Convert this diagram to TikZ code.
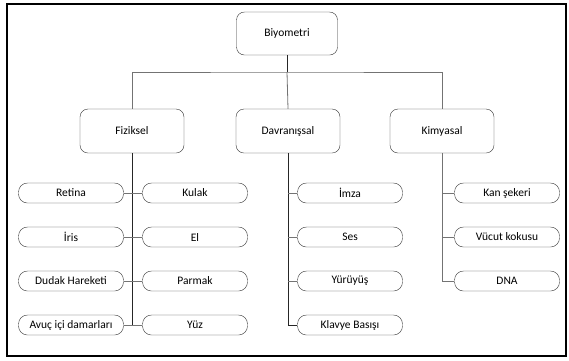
\documentclass[tikz,border=0pt]{standalone}
\usepackage{fontspec}
\setmainfont{Carlito}
\usetikzlibrary{positioning,calc}

\begin{document}
\begin{tikzpicture}[x=1pt, y=-1pt,
  catbox/.style={draw=black!80, rounded corners=8pt, fill=white, minimum width=104pt,
                 minimum height=44pt, inner sep=2pt, align=center, font=\fontsize{11.5}{13}\selectfont},
  leafbox/.style={draw=black!80, rounded corners=9pt, fill=white, minimum width=105pt,
                  minimum height=20pt, inner sep=1pt, align=center, font=\fontsize{11.5}{13}\selectfont},
  trunk/.style={draw=black!85, line width=1pt},
  link/.style={draw=black!55, line width=0.8pt},
]
\useasboundingbox (0,0) rectangle (569,360);
% outer frame
\draw[line width=1.6pt] (7,4) rectangle (566,356);

% Root
\node[catbox, minimum width=101pt, minimum height=43pt] (bio) at (287,33.5) {Biyometri};

% Categories
\node[catbox] (fiz) at (132,131) {Fiziksel};
\node[catbox] (dav) at (288,131) {Davranışsal};
\node[catbox] (kim) at (442,131) {Kimyasal};

\coordinate (bus) at (287,72);
\draw[trunk] (bio.south) -- (bus);
\draw[link] (fiz.north) |- (bus) -| (kim.north);
\draw[link] (bus) -- (dav.north);

% Fiziksel leaves
\node[leafbox] (retina) at (71,193) {Retina};
\node[leafbox] (iris) at (71,237) {İris};
\node[leafbox] (dudak) at (71,281) {Dudak Hareketi};
\node[leafbox] (avuc) at (71,325) {Avuç içi damarları};
\node[leafbox] (kulak) at (195,193) {Kulak};
\node[leafbox] (el) at (195,237) {El};
\node[leafbox] (parmak) at (195,281) {Parmak};
\node[leafbox] (yuz) at (195,325) {Yüz};

\draw[trunk] (fiz.south) -- (fiz.south |- avuc.east);
\foreach \a/\b in {retina/kulak, iris/el, dudak/parmak, avuc/yuz}
  \draw[link] (\a.east) -- (\b.west);

% Davranissal leaves
\node[leafbox] (imza) at (350,193) {İmza};
\node[leafbox] (ses) at (350,237) {Ses};
\node[leafbox] (yuruyus) at (350,281) {Yürüyüş};
\node[leafbox] (klavye) at (350,325) {Klavye Basışı};

\draw[trunk] (dav.south) |- (klavye.west);
\foreach \c in {imza, ses, yuruyus}
  \draw[link] (dav.south |- \c.west) -- (\c.west);

% Kimyasal leaves
\node[leafbox] (kan) at (507,193) {Kan şekeri};
\node[leafbox] (koku) at (507,237) {Vücut kokusu};
\node[leafbox] (dna) at (507,281) {DNA};

\draw[link] (kim.south) |- (dna.west);
\foreach \c in {kan, koku}
  \draw[link] (kim.south |- \c.west) -- (\c.west);
\end{tikzpicture}
\end{document}
